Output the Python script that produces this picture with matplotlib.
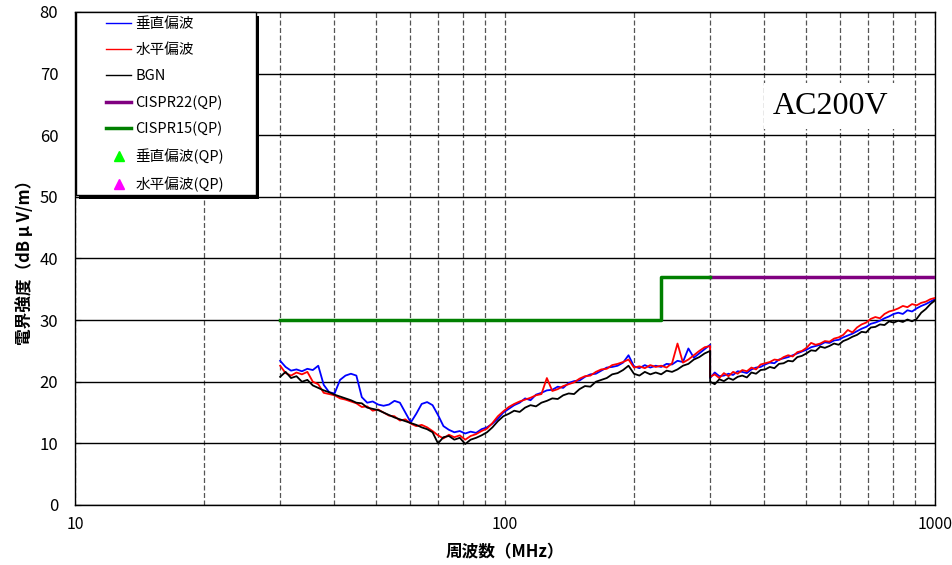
import numpy as np
import matplotlib
matplotlib.use('Agg')
import matplotlib.pyplot as plt
from matplotlib.patches import Rectangle
from matplotlib.lines import Line2D

plt.rcParams['font.family'] = ['Noto Sans CJK JP', 'DejaVu Sans']

# ─── Sweep frequencies (MHz): 30-300 band and 300-1000 band
#
FREQ_LOW = np.geomspace(30, 300, 80)
FREQ_HIGH = np.geomspace(300, 1000, 50)

# ─── Measured levels (dBμV/m), low band
#
VERT_LOW = [23.4, 22.4, 21.8, 22.0, 21.7, 22.1, 21.9, 22.6, 19.5, 18.3,
            18.1, 20.3, 21.0, 21.3, 21.0, 17.5, 16.6, 16.8, 16.3, 16.1,
            16.3, 16.9, 16.6, 15.0, 13.4, 14.8, 16.4, 16.7, 16.2, 14.6,
            12.8, 12.2, 11.8, 12.0, 11.6, 11.9, 11.7, 12.3, 12.6, 13.2,
            14.0, 15.0, 15.6, 16.2, 16.6, 17.3, 17.0, 17.9, 18.2, 18.6,
            18.7, 19.2, 19.0, 19.8, 20.1, 20.2, 20.8, 21.2, 21.3, 21.8,
            22.3, 22.4, 22.6, 23.1, 24.3, 22.5, 22.2, 22.7, 22.3, 22.6,
            22.4, 22.9, 22.8, 23.4, 23.2, 25.4, 23.9, 24.6, 25.3, 26.0]
HORIZ_LOW = [22.6, 21.4, 21.0, 21.5, 21.2, 21.6, 20.0, 19.6, 18.2, 18.0,
             17.8, 17.3, 17.1, 16.8, 16.5, 15.9, 16.0, 15.3, 15.5, 15.0,
             14.5, 14.4, 13.7, 13.9, 13.2, 12.8, 13.0, 12.6, 12.0, 11.3,
             10.8, 11.4, 11.0, 11.3, 10.6, 11.2, 11.5, 12.0, 12.4, 13.3,
             14.4, 15.2, 15.9, 16.4, 16.8, 17.1, 17.4, 17.8, 18.0, 20.6,
             18.5, 18.8, 19.3, 19.6, 19.9, 20.5, 20.9, 21.0, 21.6, 22.0,
             22.1, 22.7, 22.9, 23.2, 23.6, 22.3, 22.5, 22.2, 22.7, 22.4,
             22.6, 22.3, 23.0, 26.2, 23.1, 23.6, 24.3, 25.0, 25.6, 25.8]
BGN_LOW = [20.8, 21.6, 20.6, 20.9, 20.0, 20.3, 19.4, 19.0, 18.6, 18.3,
           17.9, 17.6, 17.3, 17.0, 16.6, 16.5, 15.8, 15.6, 15.4, 15.0,
           14.6, 14.2, 13.9, 13.6, 13.3, 13.0, 12.6, 12.3, 11.8, 10.0,
           11.0, 11.2, 10.6, 10.9, 9.9, 10.6, 10.9, 11.3, 11.8, 12.6,
           13.6, 14.4, 14.8, 15.3, 15.1, 15.8, 16.2, 16.0, 16.6, 16.9,
           17.3, 17.2, 17.8, 18.1, 18.0, 18.8, 19.3, 19.2, 20.0, 20.3,
           20.6, 21.2, 21.4, 21.9, 22.6, 21.3, 21.0, 21.6, 21.2, 21.5,
           21.2, 21.8, 21.6, 22.0, 22.6, 22.9, 23.6, 24.0, 24.6, 25.0]

# ─── Measured levels (dBμV/m), high band
#
VERT_HIGH = [20.6, 21.5, 20.9, 21.0, 21.3, 21.1, 21.7, 21.6, 21.4, 22.0,
             22.3, 22.4, 22.8, 23.1, 23.0, 23.6, 23.8, 24.0, 24.3, 24.6,
             24.9, 25.2, 25.6, 25.8, 26.0, 26.4, 26.3, 26.7, 26.8, 27.2,
             27.5, 27.8, 28.2, 28.6, 28.9, 29.4, 29.6, 29.9, 30.3, 30.6,
             31.0, 31.2, 31.0, 31.6, 31.4, 31.9, 32.3, 32.6, 33.0, 33.4]
HORIZ_HIGH = [20.8, 21.2, 20.6, 21.4, 20.9, 21.6, 21.3, 21.9, 21.7, 22.3,
              22.0, 22.8, 23.0, 23.2, 23.6, 23.5, 24.0, 24.3, 24.1, 24.8,
              25.0, 25.5, 26.3, 26.0, 26.2, 26.6, 26.5, 27.0, 27.2, 27.6,
              28.4, 28.0, 28.8, 29.3, 29.6, 30.2, 30.5, 30.3, 31.0, 31.4,
              31.6, 31.9, 32.3, 32.1, 32.6, 32.4, 32.8, 33.0, 33.4, 33.6]
BGN_HIGH = [20.0, 19.6, 20.4, 20.1, 20.6, 20.3, 20.8, 21.0, 20.7, 21.5,
            21.3, 21.9, 22.0, 22.4, 22.2, 22.9, 23.0, 23.4, 23.3, 24.0,
            24.2, 24.6, 25.1, 25.0, 25.7, 25.5, 25.8, 26.2, 26.0, 26.6,
            26.9, 27.3, 27.6, 28.1, 28.0, 28.8, 28.9, 29.3, 29.2, 29.8,
            29.6, 29.9, 29.7, 30.1, 29.8, 30.2, 31.2, 31.8, 32.6, 33.2]

# ─── Limit lines
#
CISPR15_FREQ = [30, 230, 230, 300]
CISPR15_LEVEL = [30, 30, 37, 37]
CISPR22_FREQ = [300, 1000]
CISPR22_LEVEL = [37, 37]

SUPPLY_LABEL = 'AC200V'

freq = np.concatenate([FREQ_LOW, FREQ_HIGH])
vert = np.concatenate([VERT_LOW, VERT_HIGH])
horiz = np.concatenate([HORIZ_LOW, HORIZ_HIGH])
bgn = np.concatenate([BGN_LOW, BGN_HIGH])

fig = plt.figure(figsize=(9.53, 5.65), dpi=100)
ax = fig.add_axes([0.0787, 0.1062, 0.9024, 0.8726])

ax.plot(freq, vert, color='#0000ff', lw=1.3, zorder=3)
ax.plot(freq, horiz, color='#ff0000', lw=1.3, zorder=4)
ax.plot(freq, bgn, color='black', lw=1.3, zorder=5)
ax.plot(CISPR22_FREQ, CISPR22_LEVEL, color='#800080', lw=2.5, zorder=6)
ax.plot(CISPR15_FREQ, CISPR15_LEVEL, color='#008000', lw=2.5, zorder=6)

ax.set_xscale('log')
ax.set_xlim(10, 1000)
ax.set_ylim(0, 80)
ax.set_yticks(np.arange(0, 81, 10))
ax.set_xticks([10, 100, 1000])
ax.set_xticklabels(['10', '100', '1000'])
ax.xaxis.set_minor_formatter(matplotlib.ticker.NullFormatter())

ax.grid(True, which='both', axis='x', color='#555555', lw=0.9, ls=(0, (4, 2)))
ax.grid(True, which='major', axis='y', color='black', lw=1.0)
ax.tick_params(axis='both', which='both', direction='in', labelsize=12)
ax.tick_params(axis='x', labelsize=11.5)
ax.tick_params(axis='y', length=4, pad=12)
ax.tick_params(axis='x', which='major', length=0, pad=8)
ax.tick_params(axis='x', which='minor', length=0)
for sp in ax.spines.values():
    sp.set_color('black')
    sp.set_linewidth(1.0)

ax.set_xlabel('周波数（MHz）', fontsize=12, fontweight='bold', labelpad=7)
ax.set_ylabel('電界強度（dB μ V/m）', fontsize=12, fontweight='bold', labelpad=4)

# ─── Legend box with drop shadow
#
box_w, box_h = 0.2093, 0.3712
ax.add_patch(Rectangle((0.0047, 1 - box_h - 0.0081), box_w, box_h, transform=ax.transAxes,
                       facecolor='black', edgecolor='none', zorder=9, clip_on=False))
ax.add_patch(Rectangle((0.0012, 1 - box_h), box_w, box_h, transform=ax.transAxes,
                       facecolor='white', edgecolor='black', lw=1.0, zorder=10, clip_on=False))

handles = [
    Line2D([], [], color='#0000ff', lw=1.0),
    Line2D([], [], color='#ff0000', lw=1.0),
    Line2D([], [], color='black', lw=1.0),
    Line2D([], [], color='#800080', lw=2.5),
    Line2D([], [], color='#008000', lw=2.5),
    Line2D([], [], color='#00ff00', marker='^', ls='none', markersize=7),
    Line2D([], [], color='#ff00ff', marker='^', ls='none', markersize=7),
]
labels = ['垂直偏波', '水平偏波', 'BGN', 'CISPR22(QP)', 'CISPR15(QP)',
          '垂直偏波(QP)', '水平偏波(QP)']
leg = ax.legend(handles, labels, loc='upper left', bbox_to_anchor=(0.036, 0.990),
                frameon=False, fontsize=10.5, borderpad=0, borderaxespad=0,
                handlelength=1.75, handletextpad=0.25, labelspacing=0.83)
leg.set_zorder(11)

ax.text(0.878, 0.809, SUPPLY_LABEL, transform=ax.transAxes, ha='center', va='center',
        fontsize=23, family='Liberation Serif', zorder=7,
        bbox=dict(facecolor='white', edgecolor='none', pad=6))

plt.savefig('out.png', dpi=100)
